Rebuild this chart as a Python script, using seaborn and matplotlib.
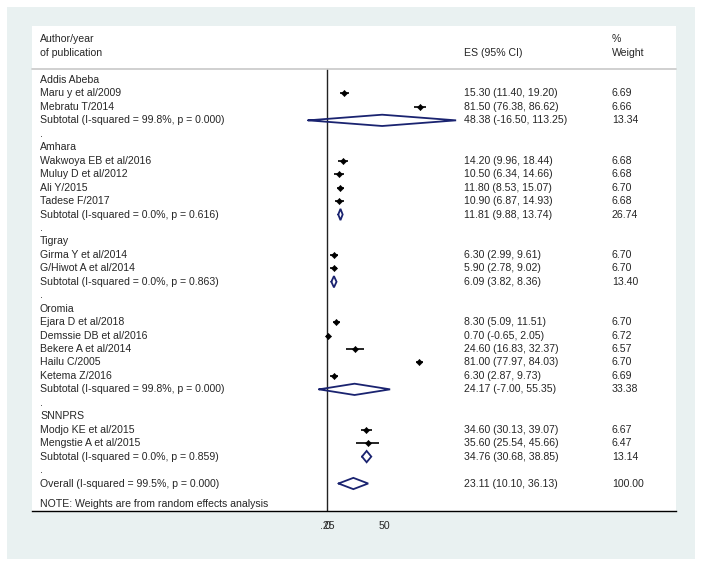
import numpy as np
import pandas as pd
import matplotlib
matplotlib.use('Agg')
import matplotlib.pyplot as plt
import seaborn as sns

sns.set_style('white')
plt.rcParams['font.family'] = ['Liberation Sans', 'DejaVu Sans']

# data
regions = ['Addis Abeba', 'Amhara', 'Tigray', 'Oromia', 'SNNPRS']
study_region = ['Addis Abeba', 'Addis Abeba',
                'Amhara', 'Amhara', 'Amhara', 'Amhara',
                'Tigray', 'Tigray',
                'Oromia', 'Oromia', 'Oromia', 'Oromia', 'Oromia',
                'SNNPRS', 'SNNPRS']
study_name = ['Maru y et al/2009', 'Mebratu T/2014',
              'Wakwoya EB et al/2016', 'Muluy D et al/2012', 'Ali Y/2015', 'Tadese F/2017',
              'Girma Y et al/2014', 'G/Hiwot A et al/2014',
              'Ejara D et al/2018', 'Demssie DB et al/2016', 'Bekere A et al/2014',
              'Hailu C/2005', 'Ketema Z/2016',
              'Modjo KE et al/2015', 'Mengstie A et al/2015']
study_es = [15.30, 81.50, 14.20, 10.50, 11.80, 10.90, 6.30, 5.90,
            8.30, 0.70, 24.60, 81.00, 6.30, 34.60, 35.60]
study_lo = [11.40, 76.38, 9.96, 6.34, 8.53, 6.87, 2.99, 2.78,
            5.09, -0.65, 16.83, 77.97, 2.87, 30.13, 25.54]
study_hi = [19.20, 86.62, 18.44, 14.66, 15.07, 14.93, 9.61, 9.02,
            11.51, 2.05, 32.37, 84.03, 9.73, 39.07, 45.66]
study_wt = [6.69, 6.66, 6.68, 6.68, 6.70, 6.68, 6.70, 6.70,
            6.70, 6.72, 6.57, 6.70, 6.69, 6.67, 6.47]

sub_i2 = [99.8, 0.0, 0.0, 99.8, 0.0]
sub_p = [0.000, 0.616, 0.863, 0.000, 0.859]
sub_es = [48.38, 11.81, 6.09, 24.17, 34.76]
sub_lo = [-16.50, 9.88, 3.82, -7.00, 30.68]
sub_hi = [113.25, 13.74, 8.36, 55.35, 38.85]
sub_wt = [13.34, 26.74, 13.40, 33.38, 13.14]

overall_i2, overall_p = 99.5, 0.000
overall_es, overall_lo, overall_hi, overall_wt = 23.11, 10.10, 36.13, 100.00

tick_vals = [0, 0.25, 50]
tick_labels = ['0', '.25', '50']

# build row layout
rows = []
r = 0
for g, reg in enumerate(regions):
    rows.append(dict(row=r, kind='head', label=reg))
    r += 1
    for i, s in enumerate(study_region):
        if s == reg:
            rows.append(dict(row=r, kind='study', label=study_name[i], es=study_es[i],
                             lo=study_lo[i], hi=study_hi[i], wt=study_wt[i]))
            r += 1
    rows.append(dict(row=r, kind='sub',
                     label=f'Subtotal (I-squared = {sub_i2[g]:.1f}%, p = {sub_p[g]:.3f})',
                     es=sub_es[g], lo=sub_lo[g], hi=sub_hi[g], wt=sub_wt[g]))
    r += 1
    rows.append(dict(row=r, kind='dot', label='.'))
    r += 1
rows.append(dict(row=r, kind='sub',
                 label=f'Overall (I-squared = {overall_i2:.1f}%, p = {overall_p:.3f})',
                 es=overall_es, lo=overall_lo, hi=overall_hi, wt=overall_wt))
note_row = r + 1.5
df = pd.DataFrame(rows)

fig = plt.figure(figsize=(7.02, 5.66), dpi=100)
fig.patch.set_facecolor('white')
W, H = 702, 566
# outer tinted panel
fig.add_artist(plt.Rectangle((7 / W, 1 - 559 / H), (695 - 7) / W, (559 - 7) / H,
                             transform=fig.transFigure, facecolor='#e9f1f1',
                             edgecolor='none', zorder=0))
ax = fig.add_axes([32 / W, 1 - 511 / H, (676 - 32) / W, (511 - 26) / H])
ax.set_facecolor('white')

px = 1.14  # pixels per unit
ax.set_xlim((32 - 327) / px, (676 - 327) / px)
rh = 13.45
ax.set_ylim((511 - 80) / rh, (26 - 80) / rh)

for s in ['top', 'right', 'left']:
    ax.spines[s].set_visible(False)
ax.spines['bottom'].set_color('black')
ax.spines['bottom'].set_linewidth(1.0)
ax.set_yticks([])
ax.set_xticks(tick_vals)
ax.set_xticklabels(tick_labels, fontsize=7.6)
ax.tick_params(axis='x', direction='out', length=5, width=1, color='black', pad=2)

tf = ax.get_yaxis_transform()
sep = (69 - 80) / rh
ax.plot([0, 1], [sep, sep], transform=tf, color='#c8c8c8', lw=1.2, clip_on=False)
ax.plot([0, 0], [sep, (511 - 80) / rh], color='#222222', lw=1.0, zorder=1)

fs = 7.6
xl, xes, xw = (40 - 32) / 644, (464 - 32) / 644, (612 - 32) / 644
ax.text(xl, (39 - 80) / rh, 'Author/year', transform=tf, fontsize=fs, va='center')
ax.text(xl, (53 - 80) / rh, 'of publication', transform=tf, fontsize=fs, va='center')
ax.text(xes, (53 - 80) / rh, 'ES (95% CI)', transform=tf, fontsize=fs, va='center')
ax.text(xw, (39 - 80) / rh, '%', transform=tf, fontsize=fs, va='center')
ax.text(xw, (53 - 80) / rh, 'Weight', transform=tf, fontsize=fs, va='center')

for _, d in df.iterrows():
    ax.text(xl, d.row, d.label, transform=tf, fontsize=fs, va='center')
    if d.kind in ('study', 'sub'):
        ax.text(xes, d.row, f'{d.es:.2f} ({d.lo:.2f}, {d.hi:.2f})', transform=tf,
                fontsize=fs, va='center')
        ax.text(xw, d.row, f'{d.wt:.2f}', transform=tf, fontsize=fs, va='center')

ax.text(xl, note_row, 'NOTE: Weights are from random effects analysis', transform=tf,
        fontsize=fs, va='center')

st = df[df.kind == 'study']
ax.hlines(st.row, st.lo, st.hi, color='black', lw=1.2, zorder=3)
sns.scatterplot(data=st, x='es', y='row', marker='D', s=10, color='black',
                edgecolor='black', linewidth=0.4, ax=ax, zorder=4, legend=False)

sb = df[df.kind == 'sub']
hh = 0.42
for _, d in sb.iterrows():
    ax.plot([d.lo, d.es, d.hi, d.es, d.lo], [d.row, d.row - hh, d.row, d.row + hh, d.row],
            color='#1a2370', lw=1.3, zorder=3, solid_joinstyle='miter')

ax.set_xlabel('')
ax.set_ylabel('')
fig.savefig('out.png', dpi=100)
